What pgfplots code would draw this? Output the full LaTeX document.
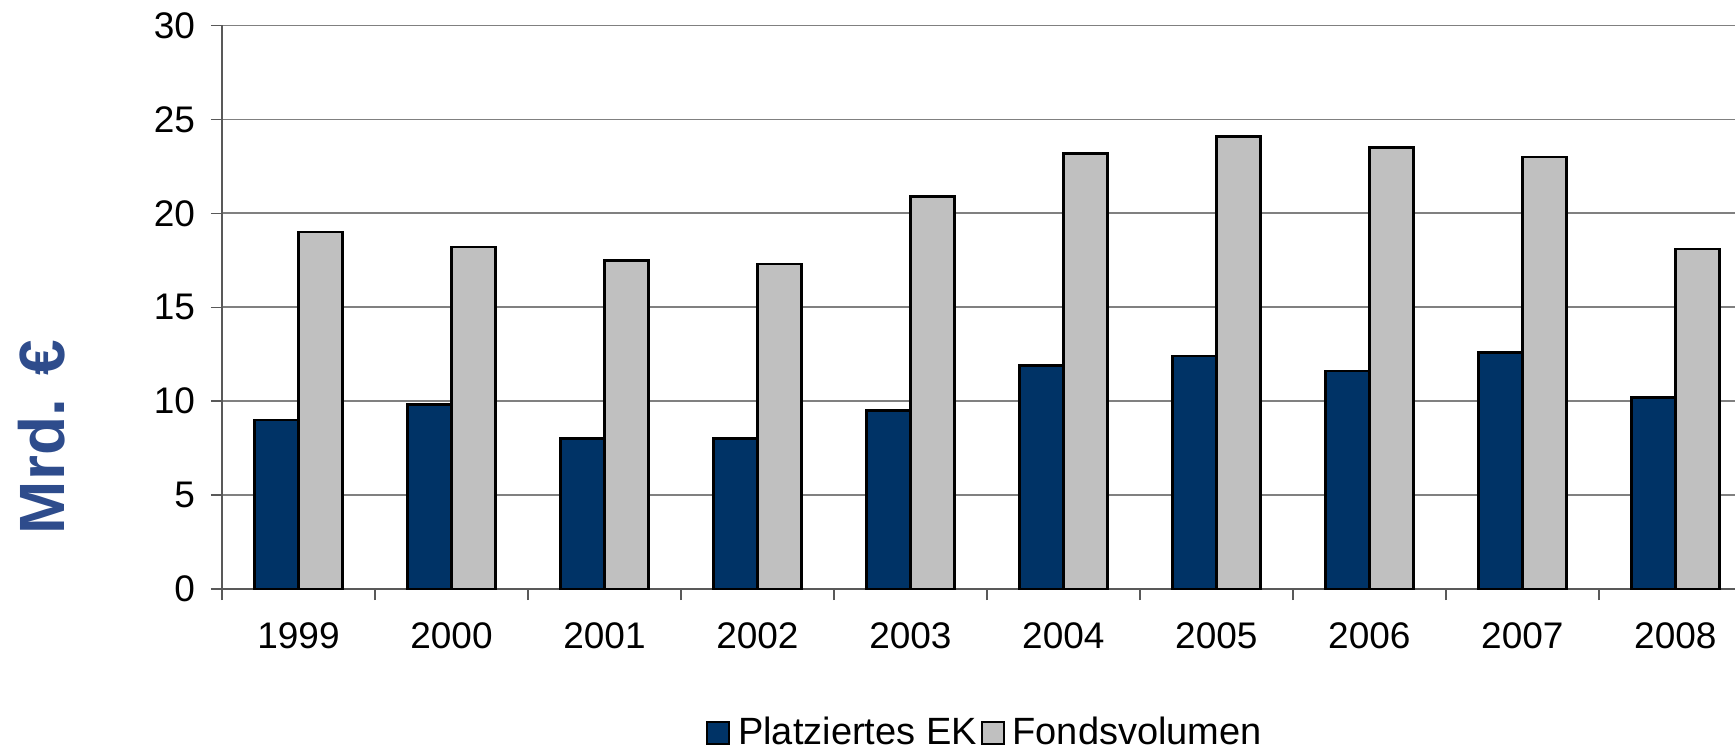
\documentclass[border=0pt]{standalone}
\usepackage{pgfplots}
\pgfplotsset{compat=1.18}
\usepackage{fontspec}
\setmainfont{Liberation Sans}
\definecolor{navy}{RGB}{0,51,102}
\definecolor{silver}{RGB}{192,192,192}
\definecolor{labelblue}{RGB}{46,76,140}
\begin{document}
\begin{tikzpicture}
\begin{axis}[
  at={(0,0)}, anchor=south west,
  scale only axis,
  width=756.5pt, height=281.8pt,
  ybar=0pt, bar width=22pt,
  xmin=-0.5, xmax=9.39,
  ymin=0, ymax=30,
  ytick={0,5,...,30},
  xtick={0,...,9},
  xticklabels={1999,2000,2001,2002,2003,2004,2005,2006,2007,2008},
  minor xtick={-0.5,0.5,...,8.5},
  major x tick style={draw=none},
  minor tick length=5.5pt,
  major tick length=5.5pt,
  tick align=outside,
  tick style={gray!70!black, line width=0.7pt},
  axis x line*=bottom, axis y line*=left,
  axis line style={gray!70!black, line width=0.8pt, -},
  ymajorgrids, grid style={gray, line width=0.8pt},
  /pgf/number format/assume math mode=true,
  tick label style={font=\fontsize{18.5pt}{20pt}\selectfont},
  xticklabel style={yshift=-8pt},
  yticklabel style={xshift=-4.5pt},
  ylabel={\fontsize{32pt}{34pt}\selectfont\bfseries Mrd. €},
  ylabel style={at={(axis description cs:-0.119,0.27)}, anchor=center, color=labelblue},
  legend style={at={(axis description cs:0.505,-0.255)}, anchor=center, draw=none,
    inner sep=0pt, outer sep=0pt,
    font=\fontsize{19pt}{20pt}\selectfont, legend columns=2},
  legend image code/.code={\draw[#1, line width=0.9pt] (0pt,-5.5pt) rectangle (11pt,5.5pt);},
]
\addplot[fill=navy, draw=black, line width=1.4pt] coordinates {
(0,9.0) (1,9.8) (2,8.0) (3,8.0) (4,9.5) (5,11.9) (6,12.4) (7,11.6) (8,12.6) (9,10.2)};
\addplot[fill=silver, draw=black, line width=1.4pt] coordinates {
(0,19.0) (1,18.2) (2,17.5) (3,17.3) (4,20.9) (5,23.2) (6,24.1) (7,23.5) (8,23.0) (9,18.1)};
\legend{\hspace{2pt}Platziertes EK\hspace{4pt}, \hspace{2pt}Fondsvolumen}
\end{axis}
\pgfresetboundingbox
\useasboundingbox (-111pt,-81pt) rectangle (756.5pt,294.5pt);
\end{tikzpicture}
\end{document}
